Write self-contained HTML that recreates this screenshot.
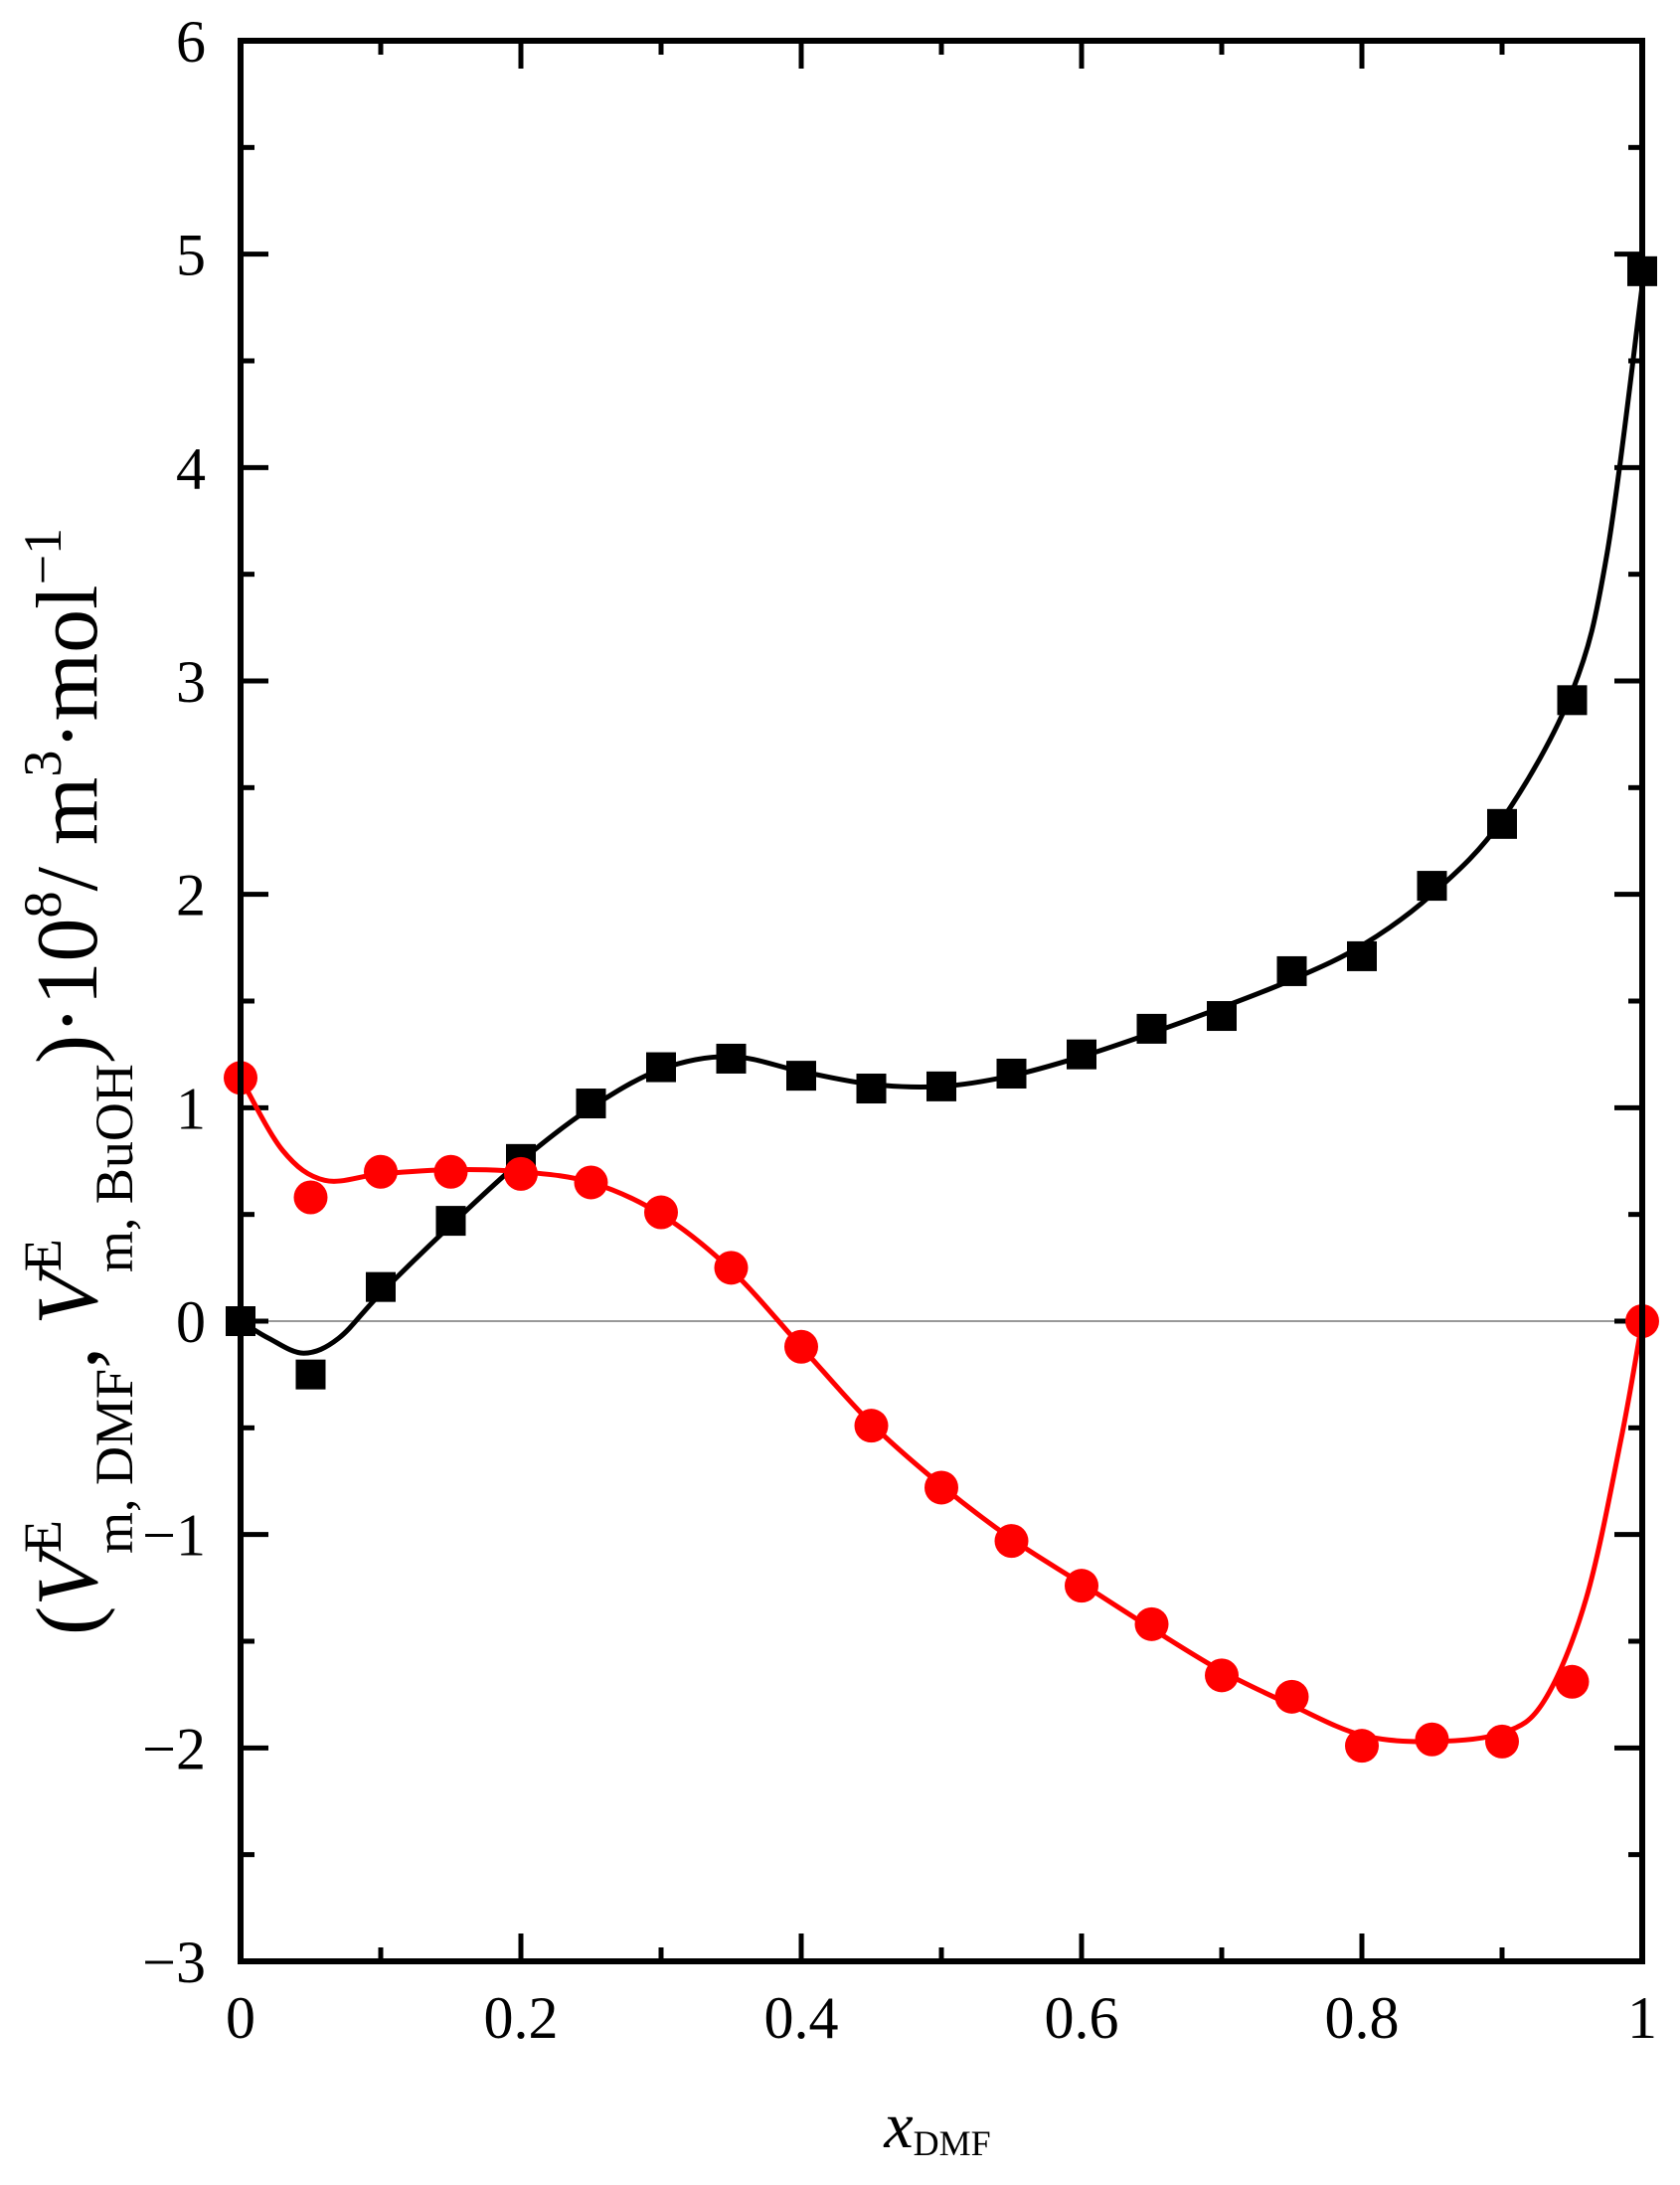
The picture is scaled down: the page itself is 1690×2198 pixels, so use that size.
<!DOCTYPE html>
<html><head><meta charset="utf-8"><style>html,body{margin:0;padding:0;background:#fff}svg{display:block}svg text{font-family:"Liberation Serif","Times New Roman",serif}</style></head>
<body>
<svg id="s" width="1690" height="2198" viewBox="0 0 1690 2198" xmlns="http://www.w3.org/2000/svg" style="font-family:'Liberation Serif',serif">
<g id="g"></g>
<text x="943" y="2160" font-size="62" text-anchor="middle"><tspan font-style="italic" font-size="66">x</tspan><tspan font-size="36" dy="8">DMF</tspan></text>
<g transform="translate(97,1088) rotate(-90)">
<text x="0" y="0" font-size="88" text-anchor="middle">(<tspan font-style="italic">V</tspan><tspan font-size="54" dy="-36">E</tspan><tspan font-size="54" dx="-34" dy="72">m, DMF</tspan><tspan dy="-36">, </tspan><tspan font-style="italic">V</tspan><tspan font-size="54" dy="-36">E</tspan><tspan font-size="54" dx="-34" dy="72">m, BuOH</tspan><tspan dy="-36">)·10</tspan><tspan font-size="54" dy="-36">8</tspan><tspan dy="36">/ m</tspan><tspan font-size="54" dy="-36">3</tspan><tspan dy="36">·mol</tspan><tspan font-size="54" dy="-36">−1</tspan></text>
</g>
</svg>
<script>
const L=242,R=1652,T=41,B=1973;
const X=x=>L+x*(R-L), Y=v=>T+(6-v)*(B-T)/9;
let h='';
h+=`<line x1="${L}" y1="${Y(0)}" x2="${R}" y2="${Y(0)}" stroke="#999" stroke-width="2"/>`;
for(let i=0;i<=18;i++){const v=-3+i*0.5,y=Y(v),len=(i%2==0)?28:14;
 h+=`<line x1="${L}" y1="${y}" x2="${L+len}" y2="${y}" stroke="#000" stroke-width="5"/><line x1="${R}" y1="${y}" x2="${R-len}" y2="${y}" stroke="#000" stroke-width="5"/>`;
 if(i%2==0) h+=`<text x="207" y="${y+21}" font-size="60" text-anchor="end">${v<0?'−'+(-v):v}</text>`;}
for(let i=0;i<=10;i++){const x=X(i*0.1),len=(i%2==0)?28:14;
 h+=`<line x1="${x}" y1="${B}" x2="${x}" y2="${B-len}" stroke="#000" stroke-width="5"/><line x1="${x}" y1="${T}" x2="${x}" y2="${T+len}" stroke="#000" stroke-width="5"/>`;
 if(i%2==0) h+=`<text x="${x}" y="2050" font-size="60" text-anchor="middle">${i==0?'0':i==10?'1':(i/10)}</text>`;}
function cr(p){let d=`M${X(p[0][0])},${Y(p[0][1])}`;const P=p.map(q=>[X(q[0]),Y(q[1])]);
 for(let i=0;i<P.length-1;i++){const p0=P[i-1]||P[i],p1=P[i],p2=P[i+1],p3=P[i+2]||P[i+1];
  d+=`C${p1[0]+(p2[0]-p0[0])/6},${p1[1]+(p2[1]-p0[1])/6} ${p2[0]-(p3[0]-p1[0])/6},${p2[1]-(p3[1]-p1[1])/6} ${p2[0]},${p2[1]}`;}return d;}
const bc=[[0,0],[0.02,-0.08],[0.045,-0.15],[0.07,-0.08],[0.1,0.13],[0.15,0.45],[0.2,0.75],[0.25,1.0],[0.3,1.18],[0.35,1.24],[0.4,1.17],[0.45,1.11],[0.5,1.10],[0.55,1.15],[0.6,1.24],[0.65,1.35],[0.7,1.47],[0.75,1.6],[0.8,1.76],[0.85,2.0],[0.9,2.35],[0.95,2.95],[0.975,3.6],[1,4.85]];
const rc=[[0,1.14],[0.03,0.8],[0.06,0.66],[0.1,0.69],[0.15,0.71],[0.2,0.70],[0.25,0.65],[0.3,0.5],[0.35,0.24],[0.4,-0.12],[0.45,-0.48],[0.5,-0.77],[0.55,-1.02],[0.6,-1.23],[0.65,-1.44],[0.7,-1.64],[0.75,-1.8],[0.8,-1.94],[0.85,-1.97],[0.9,-1.93],[0.93,-1.78],[0.96,-1.3],[0.985,-0.55],[1,0]];
h+=`<path d="${cr(bc)}" fill="none" stroke="#000" stroke-width="5"/>`;
h+=`<path d="${cr(rc)}" fill="none" stroke="#f00" stroke-width="5"/>`;
const bd=[0,-0.25,0.16,0.47,0.76,1.02,1.19,1.23,1.15,1.09,1.10,1.16,1.25,1.37,1.43,1.64,1.71,2.04,2.33,2.91,4.92];
const rd=[1.14,0.58,0.70,0.70,0.69,0.65,0.51,0.25,-0.12,-0.49,-0.78,-1.03,-1.24,-1.42,-1.66,-1.76,-1.99,-1.96,-1.97,-1.69,0];
bd.forEach((v,i)=>{const x=X(i*0.05),y=Y(v);h+=`<rect x="${x-15}" y="${y-15}" width="30" height="30" fill="#000"/>`;});
rd.forEach((v,i)=>{const x=X(i*0.05),y=Y(v);h+=`<circle cx="${x}" cy="${y}" r="17" fill="#f00"/>`;});
h+=`<rect x="${L}" y="${T}" width="${R-L}" height="${B-T}" fill="none" stroke="#000" stroke-width="6"/>`;
document.getElementById('g').innerHTML=h;
</script>
</body></html>
